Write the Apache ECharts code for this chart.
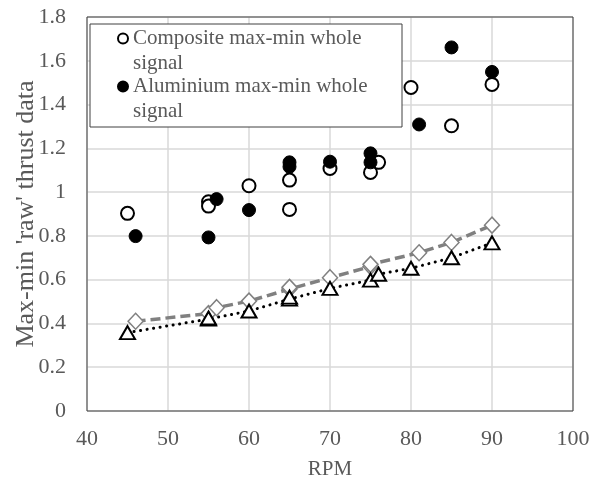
<!DOCTYPE html>
<html>
<head>
<meta charset="utf-8">
<script src="https://cdn.jsdelivr.net/npm/echarts@6/dist/echarts.min.js"></script>
<style>html,body{margin:0;padding:0;background:#fff}#c{width:600px;height:479px}</style>
</head>
<body>
<div id="c"></div>
<script>
var compositeRpm = [45, 55, 55, 60, 65, 65, 70, 75, 76, 80, 85, 90];
var compositeVal = [0.903, 0.956, 0.936, 1.029, 1.055, 0.921, 1.108, 1.09, 1.136, 1.478, 1.303, 1.492];
var aluminiumRpm = [46, 55, 56, 60, 65, 65, 70, 75, 75, 81, 85, 90];
var aluminiumVal = [0.799, 0.793, 0.968, 0.918, 1.136, 1.116, 1.139, 1.177, 1.136, 1.309, 1.661, 1.549];
var diamondRpm = [46, 55, 56, 60, 65, 65, 70, 75, 75, 81, 85, 90];
var diamondVal = [0.41, 0.445, 0.472, 0.502, 0.557, 0.565, 0.609, 0.66, 0.67, 0.723, 0.77, 0.849];
var triangleRpm = [45, 55, 55, 60, 65, 65, 70, 75, 76, 80, 85, 90];
var triangleVal = [0.358, 0.42, 0.425, 0.457, 0.511, 0.52, 0.56, 0.598, 0.625, 0.652, 0.70, 0.768];
var legendNames = ['Composite max-min whole signal', 'Aluminium max-min whole signal'];
var legendLines = [['Composite max-min whole', 'signal'], ['Aluminium max-min whole', 'signal']];

function pairs(xs, ys) { return xs.map(function (x, i) { return [x, ys[i]]; }); }

var font = 'Liberation Serif';
var grey = '#595959';
var chart = echarts.init(document.getElementById('c'));
chart.setOption({
  animation: false,
  grid: {
    left: 87, right: 27, top: 17, bottom: 68, containLabel: false, outerBoundsMode: 'none',
    show: true, borderColor: '#404040', borderWidth: 1, z: 1
  },
  xAxis: {
    type: 'value', min: 40, max: 100, interval: 10,
    name: 'RPM', nameLocation: 'middle', nameGap: 48, nameMoveOverlap: false,
    nameTextStyle: { fontFamily: font, fontSize: 21, color: grey },
    axisLine: { show: false }, axisTick: { show: false },
    axisLabel: { fontFamily: font, fontSize: 22, color: grey, margin: 17 },
    splitLine: { show: true, lineStyle: { color: '#d9d9d9', width: 1.5 } }
  },
  yAxis: {
    type: 'value', min: 0, max: 1.8, interval: 0.2,
    name: "Max-min 'raw' thrust data", nameLocation: 'middle', nameGap: 48, nameMoveOverlap: false,
    nameTextStyle: { fontFamily: font, fontSize: 26, color: grey },
    axisLine: { show: false }, axisTick: { show: false },
    axisLabel: { fontFamily: font, fontSize: 22, color: grey, margin: 21 },
    splitLine: { show: true, lineStyle: { color: '#d9d9d9', width: 1.5 } }
  },
  graphic: [{
    type: 'rect', z: 3, shape: { x: 90, y: 24, width: 312, height: 103 },
    style: { fill: '#fff', stroke: '#404040', lineWidth: 1 }
  }],
  legend: {
    data: legendNames, orient: 'vertical', left: 112, top: -2, z: 5,
    itemWidth: 10, itemHeight: 10, itemGap: -23,
    formatter: function (n) {
      var l = legendLines[legendNames.indexOf(n)];
      return '{a| }\n{a|' + l[0] + '}\n{a|' + l[1] + '}';
    },
    textStyle: {
      fontFamily: font, fontSize: 21, color: grey,
      rich: { a: { fontFamily: font, fontSize: 21, color: grey, lineHeight: 25 } }
    }
  },
  series: [
    {
      name: 'Composite max-min whole signal', type: 'scatter', symbol: 'circle', symbolSize: 13, z: 4,
      itemStyle: { color: '#fff', borderColor: '#000', borderWidth: 2, opacity: 1 },
      data: pairs(compositeRpm, compositeVal)
    },
    {
      name: 'Aluminium max-min whole signal', type: 'scatter', symbol: 'circle', symbolSize: 13, z: 4,
      itemStyle: { color: '#000', borderColor: '#000', borderWidth: 1, opacity: 1 },
      data: pairs(aluminiumRpm, aluminiumVal)
    },
    {
      name: 'Aluminium model', type: 'line', symbol: 'diamond', symbolSize: [15, 16], z: 3,
      itemStyle: { color: '#fff', borderColor: '#808080', borderWidth: 1.5 },
      lineStyle: { color: '#808080', width: 3.5, type: [10, 5] },
      data: pairs(diamondRpm, diamondVal)
    },
    {
      name: 'Composite model', type: 'line', symbol: 'triangle', symbolSize: [15, 13], z: 3,
      itemStyle: { color: '#fff', borderColor: '#000', borderWidth: 2 },
      lineStyle: { color: '#000', width: 3, type: [0.1, 6.5], cap: 'round' },
      data: pairs(triangleRpm, triangleVal)
    }
  ]
});
</script>
</body>
</html>
